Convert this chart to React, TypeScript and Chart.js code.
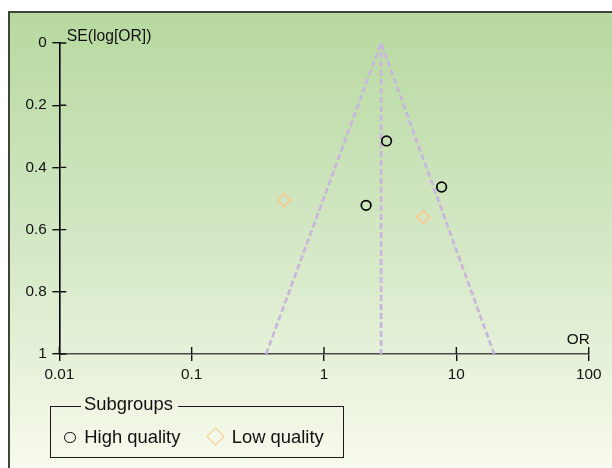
import React, { useEffect, useRef } from "react";
import { Chart, registerables } from "chart.js";

Chart.register(...registerables);

// ---- data ----
const X_TICKS = [0.01, 0.1, 1, 10, 100];
const X_TICK_LABELS = ["0.01", "0.1", "1", "10", "100"];
const Y_TICKS = [0, 0.2, 0.4, 0.6, 0.8, 1];
const Y_TICK_LABELS = ["0", "0.2", "0.4", "0.6", "0.8", "1"];

const HIGH_OR = [2.97, 7.74, 2.08];
const HIGH_SE = [0.315, 0.463, 0.522];
const LOW_OR = [0.5, 5.62];
const LOW_SE = [0.505, 0.56];

const FUNNEL_OR = [0.365, 2.7, 19.3];
const FUNNEL_SE = [1, 0, 1];
const POOLED_OR = [2.7, 2.7];
const POOLED_SE = [0, 1];

const X_TITLE = "OR";
const Y_TITLE = "SE(log[OR])";
const LEGEND_TITLE = "Subgroups";
const SERIES_NAMES = ["High quality", "Low quality"];

const FONT = '"Liberation Sans", Arial, Helvetica, sans-serif';
const TEXT = "#111111";
const FUNNEL_COLOR = "#c9b6dd";
const LOW_COLOR = "#fcc88e";

const zip = (xs: number[], ys: number[]) => xs.map((x, i) => ({ x, y: ys[i] }));

const axisExtras = {
  id: "axisExtras",
  afterDraw(chart: any) {
    const { ctx, chartArea, scales } = chart;
    const xs = scales.x;
    const ys = scales.y;
    ctx.save();
    // inner halves of the cross ticks
    ctx.strokeStyle = "#111";
    ctx.lineWidth = 1.4;
    ctx.beginPath();
    Y_TICKS.forEach((v) => {
      const py = ys.getPixelForValue(v);
      ctx.moveTo(chartArea.left, py);
      ctx.lineTo(chartArea.left + 7, py);
    });
    X_TICKS.forEach((v) => {
      const px = xs.getPixelForValue(v);
      ctx.moveTo(px, chartArea.bottom);
      ctx.lineTo(px, chartArea.bottom - 7);
    });
    ctx.stroke();
    // axis titles
    ctx.fillStyle = TEXT;
    ctx.font = `15.7px ${FONT}`;
    ctx.textBaseline = "alphabetic";
    ctx.textAlign = "left";
    ctx.fillText(Y_TITLE, chartArea.left + 7.5, ys.getPixelForValue(0) - 2.5);
    ctx.font = `15.3px ${FONT}`;
    ctx.textAlign = "right";
    ctx.fillText(X_TITLE, xs.getPixelForValue(100) + 1, chartArea.bottom - 10);
    ctx.restore();
  },
};

export default function App() {
  const ref = useRef<HTMLCanvasElement | null>(null);

  useEffect(() => {
    if (!ref.current) return;
    const chart = new Chart(ref.current, {
      type: "scatter",
      data: {
        datasets: [
          {
            label: SERIES_NAMES[0],
            data: zip(HIGH_OR, HIGH_SE),
            pointStyle: "circle",
            pointRadius: 4.8,
            pointBorderWidth: 1.7,
            borderColor: "#000",
            backgroundColor: "rgba(0,0,0,0)",
          },
          {
            label: SERIES_NAMES[1],
            data: zip(LOW_OR, LOW_SE),
            pointStyle: "rectRot",
            pointRadius: 6.5,
            pointBorderWidth: 1.6,
            borderColor: LOW_COLOR,
            backgroundColor: "rgba(0,0,0,0)",
          },
          {
            label: "funnel",
            data: zip(FUNNEL_OR, FUNNEL_SE),
            showLine: true,
            pointRadius: 0,
            borderColor: FUNNEL_COLOR,
            borderWidth: 2.7,
            borderDash: [6, 3],
            fill: false,
          },
          {
            label: "pooled",
            data: zip(POOLED_OR, POOLED_SE),
            showLine: true,
            pointRadius: 0,
            borderColor: FUNNEL_COLOR,
            borderWidth: 2.7,
            borderDash: [6, 3],
            fill: false,
          },
        ],
      } as any,
      options: {
        animation: false,
        responsive: false,
        devicePixelRatio: 1,
        layout: { padding: { left: 0, top: 43, right: 23.3, bottom: 74 } },
        plugins: { legend: { display: false }, tooltip: { enabled: false } },
        scales: {
          x: {
            type: "logarithmic",
            min: 0.01,
            max: 100,
            afterBuildTicks: (s: any) => {
              s.ticks = X_TICKS.map((v) => ({ value: v }));
            },
            afterFit: (s: any) => {
              s.height = 40;
            },
            ticks: {
              autoSkip: false,
              maxRotation: 0,
              padding: 4.5,
              color: TEXT,
              font: { family: FONT, size: 15.3 },
              callback: (v: any) => {
                const i = X_TICKS.indexOf(Number(v));
                return i >= 0 ? X_TICK_LABELS[i] : "";
              },
            },
            grid: { drawOnChartArea: false, drawTicks: true, tickLength: 7, color: "#111", lineWidth: 1.4 },
            border: { color: "#4a4a4a", width: 1.6 },
          },
          y: {
            type: "linear",
            reverse: true,
            min: 0,
            max: 1,
            afterBuildTicks: (s: any) => {
              s.ticks = Y_TICKS.map((v) => ({ value: v }));
            },
            afterFit: (s: any) => {
              s.width = 59.3;
            },
            ticks: {
              padding: 5.5,
              color: TEXT,
              font: { family: FONT, size: 15.3 },
              callback: (v: any) => {
                const i = Y_TICKS.indexOf(Number(v));
                return i >= 0 ? Y_TICK_LABELS[i] : "";
              },
            },
            grid: { drawOnChartArea: false, drawTicks: true, tickLength: 7, color: "#111", lineWidth: 1.4 },
            border: { color: "#000", width: 1.6 },
          },
        },
      } as any,
      plugins: [axisExtras],
    });
    return () => chart.destroy();
  }, []);

  const line = "#1a1a1a";
  const legendFont: React.CSSProperties = {
    position: "absolute",
    font: `18.4px ${FONT}`,
    lineHeight: "20px",
    color: TEXT,
    whiteSpace: "nowrap",
  };

  return (
    <div
      style={{
        position: "absolute",
        left: 0,
        top: 0,
        width: 612,
        height: 468,
        overflow: "hidden",
        background: "#ffffff",
      }}
    >
      <div
        style={{
          position: "absolute",
          left: 8,
          top: 11,
          width: 640,
          height: 470,
          boxSizing: "border-box",
          border: "2px solid #3c4636",
          background: "linear-gradient(to bottom, #b7d9a0 0%, #d3e7c4 48%, #f9fbee 100%)",
        }}
      />
      <canvas ref={ref} width={612} height={468} style={{ position: "absolute", left: 0, top: 0 }} />
      {/* legend box */}
      <div
        style={{
          position: "absolute",
          left: 50,
          top: 406,
          width: 293.5,
          height: 51.5,
          boxSizing: "border-box",
          borderLeft: `1.5px solid ${line}`,
          borderRight: `1.5px solid ${line}`,
          borderBottom: `1.5px solid ${line}`,
        }}
      />
      <div
        style={{
          position: "absolute",
          left: 50,
          top: 393.6,
          width: 293.5,
          display: "flex",
          alignItems: "flex-start",
        }}
      >
        <div style={{ width: 31, height: 1.5, marginTop: 12.4, background: line }} />
        <span style={{ font: `18.4px ${FONT}`, lineHeight: "20px", color: TEXT, margin: "0 5px 0 3px" }}>
          {LEGEND_TITLE}
        </span>
        <div style={{ flex: 1, height: 1.5, marginTop: 12.4, background: line }} />
      </div>
      <div
        style={{
          position: "absolute",
          left: 64,
          top: 431.8,
          width: 11.5,
          height: 11.5,
          boxSizing: "border-box",
          border: "1.5px solid #000",
          borderRadius: "50%",
        }}
      />
      <span style={{ ...legendFont, left: 84.3, top: 427.3 }}>{SERIES_NAMES[0]}</span>
      <div
        style={{
          position: "absolute",
          left: 209.2,
          top: 430.3,
          width: 13,
          height: 13,
          boxSizing: "border-box",
          border: `1.5px solid ${LOW_COLOR}`,
          transform: "rotate(45deg)",
        }}
      />
      <span style={{ ...legendFont, left: 231.7, top: 427.3 }}>{SERIES_NAMES[1]}</span>
    </div>
  );
}
